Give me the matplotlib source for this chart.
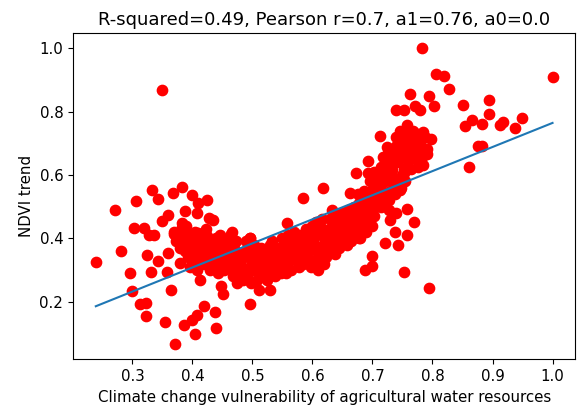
import matplotlib
matplotlib.use("Agg")
import matplotlib.pyplot as plt
import numpy as np

# Fit coefficients shown in the title
r_squared = 0.49
pearson_r = 0.7
a1 = 0.76
a0 = 0.0

# Scattered points
sparse_x = [0.239, 0.271, 0.281, 0.296, 0.299, 0.306, 0.303, 0.312, 0.319, 0.322,
            0.323, 0.325, 0.328, 0.331, 0.333, 0.336, 0.343, 0.343, 0.349, 0.349,
            0.354, 0.357, 0.360, 0.360, 0.364, 0.367, 0.371, 0.370, 0.372, 0.382,
            0.383, 0.379, 0.386, 0.388, 0.391, 0.397, 0.400, 0.400, 0.404, 0.407,
            0.410, 0.413, 0.416, 0.420, 0.425, 0.428, 0.434, 0.437, 0.440, 0.447,
            0.451, 0.456, 0.464, 0.474, 0.496, 0.496, 0.511, 0.530, 0.558, 0.585,
            0.618, 0.408, 0.383, 0.369, 0.394, 0.410, 0.424, 0.446, 0.466, 0.380,
            0.394]
sparse_y = [0.324, 0.489, 0.361, 0.290, 0.235, 0.518, 0.432, 0.194, 0.432, 0.156,
            0.196, 0.348, 0.410, 0.295, 0.552, 0.410, 0.523, 0.329, 0.867, 0.453,
            0.135, 0.295, 0.474, 0.353, 0.238, 0.543, 0.065, 0.415, 0.390, 0.563,
            0.437, 0.322, 0.125, 0.487, 0.390, 0.415, 0.536, 0.143, 0.098, 0.159,
            0.510, 0.269, 0.415, 0.187, 0.521, 0.463, 0.458, 0.166, 0.117, 0.248,
            0.223, 0.397, 0.415, 0.259, 0.193, 0.400, 0.238, 0.238, 0.447, 0.526,
            0.560, 0.481, 0.448, 0.421, 0.411, 0.416, 0.406, 0.411, 0.421, 0.369,
            0.343]

# Left cluster
left_x = [0.372, 0.378, 0.381, 0.384, 0.387, 0.389, 0.392, 0.394, 0.396, 0.398,
          0.401, 0.403, 0.405, 0.407, 0.409, 0.411, 0.413, 0.415, 0.417, 0.419,
          0.421, 0.423, 0.425, 0.427, 0.429, 0.431, 0.433, 0.435, 0.437, 0.439,
          0.441, 0.443, 0.445, 0.447, 0.449, 0.451, 0.453, 0.455, 0.457, 0.459,
          0.461, 0.463, 0.465, 0.467, 0.469, 0.471, 0.473, 0.475, 0.477, 0.479]
left_y = [0.41, 0.40, 0.38, 0.42, 0.36, 0.44, 0.34, 0.40, 0.31, 0.37,
          0.39, 0.33, 0.42, 0.30, 0.36, 0.41, 0.38, 0.34, 0.40, 0.32,
          0.37, 0.43, 0.35, 0.39, 0.30, 0.33, 0.38, 0.36, 0.31, 0.40,
          0.34, 0.29, 0.37, 0.32, 0.39, 0.35, 0.30, 0.33, 0.38, 0.36,
          0.31, 0.40, 0.34, 0.28, 0.37, 0.32, 0.39, 0.35, 0.30, 0.27]

# Dense middle band
mid_x = [0.481, 0.484, 0.487, 0.483, 0.489, 0.486, 0.482,
         0.491, 0.494, 0.497, 0.493, 0.499, 0.496, 0.492,
         0.501, 0.504, 0.507, 0.503, 0.509, 0.506, 0.502,
         0.511, 0.514, 0.517, 0.513, 0.519, 0.516, 0.512,
         0.521, 0.524, 0.527, 0.523, 0.529, 0.526, 0.522,
         0.531, 0.534, 0.537, 0.533, 0.539, 0.536, 0.532,
         0.541, 0.544, 0.547, 0.543, 0.549, 0.546, 0.542,
         0.551, 0.554, 0.557, 0.553, 0.559, 0.556, 0.552,
         0.561, 0.564, 0.567, 0.563, 0.569, 0.566, 0.562,
         0.571, 0.574, 0.577, 0.573, 0.579, 0.576, 0.572,
         0.581, 0.584, 0.587, 0.583, 0.589, 0.586, 0.582,
         0.591, 0.594, 0.597, 0.593, 0.599, 0.596, 0.592,
         0.601, 0.604, 0.607, 0.603, 0.609, 0.606, 0.602,
         0.611, 0.614, 0.617, 0.613, 0.619, 0.616, 0.612,
         0.621, 0.624, 0.627, 0.623, 0.629, 0.626, 0.622,
         0.631, 0.634, 0.637, 0.633, 0.639, 0.636, 0.632,
         0.641, 0.644, 0.647, 0.643, 0.649, 0.646, 0.642,
         0.651, 0.654, 0.657, 0.653, 0.659, 0.656, 0.652,
         0.661, 0.664, 0.667, 0.663, 0.669, 0.666, 0.662,
         0.671, 0.674, 0.677, 0.673, 0.679, 0.676, 0.672,
         0.681, 0.684, 0.687, 0.683, 0.689, 0.686, 0.682,
         0.691, 0.694, 0.697, 0.693, 0.699, 0.696, 0.692,
         0.701, 0.704, 0.707, 0.703, 0.709, 0.706, 0.702]
mid_y = [0.33, 0.27, 0.36, 0.30, 0.39, 0.35, 0.31,
         0.28, 0.34, 0.26, 0.37, 0.32, 0.40, 0.29,
         0.35, 0.30, 0.27, 0.38, 0.33, 0.31, 0.36,
         0.31, 0.37, 0.28, 0.34, 0.29, 0.36, 0.33,
         0.30, 0.27, 0.35, 0.32, 0.38, 0.29, 0.34,
         0.36, 0.31, 0.28, 0.39, 0.33, 0.30, 0.35,
         0.32, 0.37, 0.29, 0.35, 0.40, 0.31, 0.34,
         0.33, 0.30, 0.38, 0.35, 0.41, 0.29, 0.32,
         0.36, 0.30, 0.39, 0.33, 0.42, 0.37, 0.34,
         0.34, 0.39, 0.31, 0.36, 0.41, 0.38, 0.33,
         0.37, 0.32, 0.40, 0.35, 0.43, 0.34, 0.38,
         0.34, 0.40, 0.31, 0.37, 0.44, 0.42, 0.36,
         0.39, 0.33, 0.36, 0.42, 0.30, 0.45, 0.38,
         0.35, 0.41, 0.38, 0.44, 0.32, 0.46, 0.37,
         0.40, 0.37, 0.43, 0.34, 0.46, 0.39, 0.36,
         0.38, 0.44, 0.35, 0.41, 0.47, 0.40, 0.49,
         0.42, 0.37, 0.45, 0.40, 0.48, 0.44, 0.39,
         0.41, 0.46, 0.38, 0.43, 0.49, 0.45, 0.40,
         0.44, 0.39, 0.47, 0.42, 0.50, 0.46, 0.41,
         0.46, 0.43, 0.51, 0.48, 0.40, 0.54, 0.45,
         0.48, 0.45, 0.53, 0.50, 0.42, 0.55, 0.47,
         0.50, 0.47, 0.55, 0.52, 0.44, 0.58, 0.49,
         0.53, 0.50, 0.56, 0.47, 0.59, 0.52, 0.61]

# Upper right cluster
up_x = [0.711, 0.714, 0.717, 0.713, 0.719, 0.716,
        0.721, 0.724, 0.727, 0.723, 0.729, 0.726,
        0.731, 0.734, 0.737, 0.733, 0.739, 0.736,
        0.741, 0.744, 0.747, 0.743, 0.749, 0.746,
        0.751, 0.754, 0.757, 0.753, 0.759,
        0.761, 0.764, 0.767, 0.763, 0.769,
        0.771, 0.774, 0.777, 0.773,
        0.781, 0.784, 0.787, 0.783,
        0.782, 0.806, 0.819, 0.828, 1.000, 0.763, 0.795, 0.803, 0.739, 0.753,
        0.771, 0.779, 0.851, 0.894, 0.894, 0.854, 0.866, 0.883, 0.912, 0.918,
        0.937, 0.949, 0.875, 0.883, 0.861, 0.795, 0.752, 0.770, 0.758, 0.757,
        0.743, 0.737, 0.721, 0.730, 0.700, 0.700, 0.688, 0.678, 0.688, 0.746,
        0.746, 0.712, 0.693, 0.725, 0.739, 0.758, 0.785, 0.797, 0.791, 0.782,
        0.770, 0.758, 0.749, 0.733, 0.718, 0.725, 0.728, 0.706, 0.693, 0.672,
        0.663, 0.715, 0.776, 0.770, 0.764, 0.733, 0.739, 0.700, 0.706, 0.752,
        0.791]
up_y = [0.56, 0.50, 0.62, 0.53, 0.59, 0.55,
        0.58, 0.64, 0.52, 0.61, 0.55, 0.67,
        0.60, 0.66, 0.54, 0.63, 0.69, 0.57,
        0.64, 0.72, 0.56, 0.68, 0.60, 0.74,
        0.66, 0.58, 0.70, 0.62, 0.73,
        0.68, 0.62, 0.74, 0.65, 0.71,
        0.67, 0.73, 0.64, 0.70,
        0.69, 0.63, 0.72, 0.66,
        1.000, 0.917, 0.911, 0.872, 0.909, 0.856, 0.848, 0.817, 0.806, 0.804,
        0.817, 0.804, 0.822, 0.835, 0.791, 0.754, 0.772, 0.762, 0.757, 0.767,
        0.748, 0.778, 0.692, 0.692, 0.626, 0.243, 0.295, 0.451, 0.491, 0.411,
        0.379, 0.421, 0.385, 0.458, 0.343, 0.314, 0.301, 0.400, 0.455, 0.552,
        0.584, 0.722, 0.645, 0.689, 0.720, 0.757, 0.736, 0.712, 0.683, 0.657,
        0.683, 0.647, 0.689, 0.615, 0.657, 0.521, 0.489, 0.573, 0.605, 0.605,
        0.542, 0.626, 0.626, 0.710, 0.736, 0.662, 0.479, 0.500, 0.521, 0.605,
        0.665]

x = np.array(sparse_x + left_x + mid_x + up_x)
y = np.array(sparse_y + left_y + mid_y + up_y)

plt.rcParams['font.size'] = 10.8

fig = plt.figure(figsize=(5.81, 4.07), dpi=100)
ax = fig.add_axes([0.1256, 0.1172, 0.8647, 0.801])

ax.scatter(x, y, color='red', s=55)

# regression line over the data range
xs = np.array([x.min(), x.max()])
ax.plot(xs, a1 * xs + a0 + 0.004, color='#1f77b4', lw=1.5)

ax.set_xticks([0.3, 0.4, 0.5, 0.6, 0.7, 0.8, 0.9, 1.0])
ax.set_yticks([0.2, 0.4, 0.6, 0.8, 1.0])
ax.tick_params(labelsize=10.8)
ax.set_xlabel("Climate change vulnerability of agricultural water resources", fontsize=10.8)
ax.set_ylabel("NDVI trend", fontsize=10.8)
ax.set_title(f"R-squared={r_squared}, Pearson r={pearson_r}, a1={a1}, a0={a0}", fontsize=13)

fig.savefig("out.png", dpi=100)
